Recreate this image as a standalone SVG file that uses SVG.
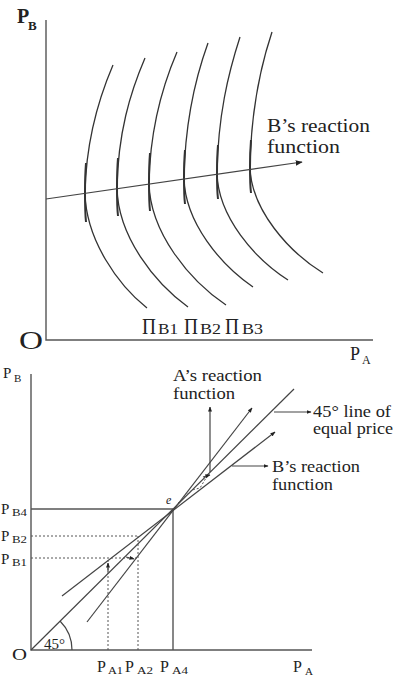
<svg xmlns="http://www.w3.org/2000/svg" width="405" height="679" viewBox="0 0 405 679">
<style>
text{font-family:"Liberation Serif","Times New Roman",serif;fill:#222}
.ax{stroke:#555;stroke-width:1.4;fill:none}
.cv{stroke:#333;stroke-width:1.3;fill:none}
.tk{stroke:#333;stroke-width:2;fill:none}
.ln{stroke:#444;stroke-width:1.2;fill:none}
.ds{stroke:#555;stroke-width:1;stroke-dasharray:2 2;fill:none}
</style>
<defs>
<marker id="ah" viewBox="0 0 10 10" refX="9" refY="5" markerWidth="7" markerHeight="7" orient="auto" markerUnits="userSpaceOnUse"><path d="M0,1 L10,5 L0,9 Z" fill="#222"/></marker>
<marker id="ahs" viewBox="0 0 10 10" refX="9" refY="5" markerWidth="5" markerHeight="5" orient="auto" markerUnits="userSpaceOnUse"><path d="M0,1 L10,5 L0,9 Z" fill="#222"/></marker>
</defs>

<!-- Top panel -->
<g id="top-axes">
<path class="ax" d="M46,20 V340 H373"/>
<text x="17" y="23" font-size="20" font-weight="bold">P</text>
<text x="28" y="30" font-size="13" font-weight="bold">B</text>
<text x="19" y="349" font-size="25" textLength="24" lengthAdjust="spacingAndGlyphs">O</text>
<text x="350" y="360" font-size="18">P</text>
<text x="362" y="364" font-size="12">A</text>
</g>
<g id="isoprofit-curves">
<path class="cv" d="M113,65 C98,100 86,140 85,193 C86,240 118,285 147,308"/>
<path class="cv" d="M145,58 C130,93 118,133 117,188 C118,237 155,283 188,307"/>
<path class="cv" d="M177,52 C162,87 150,128 149,183 C150,233 190,281 226,305"/>
<path class="cv" d="M208,43 C195,79 185,121 184,178 C185,223 221,265 253,287"/>
<path class="cv" d="M240,37 C228,74 218,116 217,173 C218,217 255,259 288,280"/>
<path class="cv" d="M272,32 C260,68 251,110 250,167 C251,210 289,252 323,273"/>
<path class="tk" d="M86,163 C85,175 85,185 85,193 C85,203 85,212 86,222"/>
<path class="tk" d="M118,158 C117,170 117,180 117,188 C117,198 117,207 118,216"/>
<path class="tk" d="M150,153 C149,165 149,175 149,183 C149,193 149,202 150,211"/>
<path class="tk" d="M185,150 C184,162 184,170 184,178 C184,188 184,196 185,204"/>
<path class="tk" d="M218,145 C217,157 217,165 217,173 C217,183 217,191 218,199"/>
<path class="tk" d="M251,140 C250,152 250,160 250,167 C250,177 250,185 251,193"/>
<text x="142" y="334" font-size="23" textLength="14" lengthAdjust="spacingAndGlyphs">Π</text>
<text x="158" y="334" font-size="15" textLength="20" lengthAdjust="spacingAndGlyphs">B1</text>
<text x="184" y="334" font-size="23" textLength="14" lengthAdjust="spacingAndGlyphs">Π</text>
<text x="200" y="334" font-size="15" textLength="21" lengthAdjust="spacingAndGlyphs">B2</text>
<text x="225" y="334" font-size="23" textLength="14" lengthAdjust="spacingAndGlyphs">Π</text>
<text x="242" y="334" font-size="15" textLength="21" lengthAdjust="spacingAndGlyphs">B3</text>
</g>
<g id="top-connectors">
<path class="ln" d="M46,199 L302,162" marker-end="url(#ah)"/>
</g>
<g id="top-label">
<text x="267" y="132" font-size="19" textLength="103" lengthAdjust="spacingAndGlyphs">B’s reaction</text>
<text x="267" y="153" font-size="19" textLength="73" lengthAdjust="spacingAndGlyphs">function</text>
</g>

<!-- Bottom panel -->
<g id="bottom-axes">
<path class="ax" d="M31,374 V650 H312"/>
<text x="3" y="378" font-size="15">P</text>
<text x="14" y="382" font-size="11">B</text>
<text x="12" y="660" font-size="17" textLength="15" lengthAdjust="spacingAndGlyphs">O</text>
<text x="293" y="672" font-size="16">P</text>
<text x="305" y="675" font-size="11">A</text>
<path class="ax" d="M31,509 H173 V650" stroke-width="1.2"/>
<path d="M72,650 A41,41 0 0 0 60,621" class="ln"/>
<text x="44" y="649" font-size="15">45°</text>
<text x="166" y="504" font-size="12" font-style="italic">e</text>
</g>
<g id="bottom-ticks">
<text x="1" y="514" font-size="15">P</text>
<text x="12" y="516" font-size="11" textLength="15" lengthAdjust="spacingAndGlyphs">B4</text>
<text x="1" y="541" font-size="15">P</text>
<text x="12" y="543" font-size="11" textLength="15" lengthAdjust="spacingAndGlyphs">B2</text>
<text x="1" y="564" font-size="15">P</text>
<text x="12" y="566" font-size="11" textLength="15" lengthAdjust="spacingAndGlyphs">B1</text>
<text x="97" y="672" font-size="16">P</text>
<text x="108" y="674" font-size="11" textLength="15" lengthAdjust="spacingAndGlyphs">A1</text>
<text x="125" y="672" font-size="16">P</text>
<text x="137" y="674" font-size="11" textLength="16" lengthAdjust="spacingAndGlyphs">A2</text>
<text x="160" y="672" font-size="16">P</text>
<text x="172" y="674" font-size="11" textLength="16" lengthAdjust="spacingAndGlyphs">A4</text>
</g>
<g id="bottom-connectors">
<path class="ln" d="M31,650 L294,389"/>
<path class="ln" d="M62,596 L275,432" marker-end="url(#ahs)"/>
<path class="ln" d="M87,622 L252,408" marker-end="url(#ahs)"/>
<path class="ds" d="M31,558 H137"/>
<path class="ds" d="M31,536 H138"/>
<path class="ds" d="M108,650 V558"/>
<path class="ds" d="M138,650 V536"/>
<path class="ln" d="M108,572 V563" marker-end="url(#ahs)"/>
<path class="ln" d="M126,557 L134,559" marker-end="url(#ahs)"/>
<path class="ds" d="M178,503 L192,490 L200,488 L206,478"/>
<path class="ln" d="M203,477 L210,475" marker-end="url(#ahs)"/>
<path class="ln" d="M210,472 V407" marker-end="url(#ahs)"/>
<path class="ln" d="M274,412 H311" marker-end="url(#ahs)"/>
<path class="ln" d="M232,466 H268" marker-end="url(#ahs)"/>
</g>
<g id="bottom-labels">
<text x="173" y="381" font-size="16" textLength="89" lengthAdjust="spacingAndGlyphs">A’s reaction</text>
<text x="173" y="399" font-size="16" textLength="62" lengthAdjust="spacingAndGlyphs">function</text>
<text x="313" y="417" font-size="16" textLength="78" lengthAdjust="spacingAndGlyphs">45° line of</text>
<text x="313" y="434" font-size="16" textLength="80" lengthAdjust="spacingAndGlyphs">equal price</text>
<text x="272" y="472" font-size="16" textLength="88" lengthAdjust="spacingAndGlyphs">B’s reaction</text>
<text x="272" y="490" font-size="16" textLength="61" lengthAdjust="spacingAndGlyphs">function</text>
</g>
</svg>
